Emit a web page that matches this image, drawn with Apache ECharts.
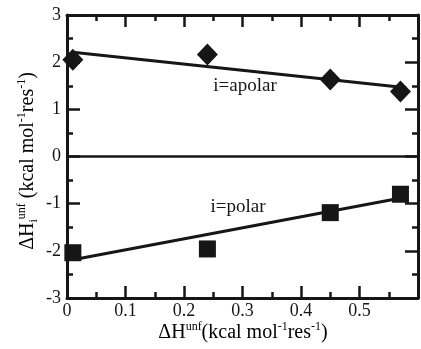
<!DOCTYPE html>
<html><head><meta charset="utf-8">
<script src="https://cdn.jsdelivr.net/npm/echarts@6/dist/echarts.min.js"></script>
<style>html,body{margin:0;padding:0;background:#fff;}#c{width:421px;height:349px;}</style>
</head><body><div id="c"></div>
<script>
var apolarX = [0.01, 0.24, 0.45, 0.57];
var apolarY = [2.05, 2.16, 1.63, 1.38];
var polarX = [0.01, 0.24, 0.45, 0.57];
var polarY = [-2.04, -1.96, -1.19, -0.80];
var apolarFitX = [0.01, 0.58];
var apolarFitY = [2.21, 1.46];
var polarFitX = [0.01, 0.58];
var polarFitY = [-2.19, -0.86];
var xTickLabels = ['0', '0.1', '0.2', '0.3', '0.4', '0.5'];
var yTickLabels = ['-3', '-2', '-1', '0', '1', '2', '3'];

function pairs(xs, ys){ return xs.map(function(x,i){ return [x, ys[i]]; }); }
var C = '#161616';
var F = '"Liberation Serif", "DejaVu Serif", serif';
var chart = echarts.init(document.getElementById('c'), null, {renderer:'canvas'});
function xAx(pos, labels){
  return {type:'value', position:pos, min:0, max:0.6, interval:0.1,
    axisLine:{show:true, onZero:false, lineStyle:{color:C, width:3}},
    axisTick:{show:true, inside:true, length:12, lineStyle:{color:C, width:2.5}},
    minorTick:{show:true, splitNumber:2, length:6, lineStyle:{color:C, width:2.5}},
    splitLine:{show:false},
    axisLabel:{show:labels, margin:4, color:C, fontFamily:F, fontSize:18,
      formatter:function(v){ var s = xTickLabels.filter(function(t){return Math.abs(parseFloat(t)-v)<1e-6;}); return s.length? s[0] : ''; }}
  };
}
function yAx(pos, labels){
  return {type:'value', position:pos, min:-3, max:3, interval:1,
    axisLine:{show:true, onZero:false, lineStyle:{color:C, width:3}},
    axisTick:{show:true, inside:true, length:13, lineStyle:{color:C, width:2.5}},
    minorTick:{show:true, splitNumber:2, length:6, lineStyle:{color:C, width:2.5}},
    splitLine:{show:false},
    axisLabel:{show:labels, margin:6, color:C, fontFamily:F, fontSize:18,
      formatter:function(v){ var s = yTickLabels.filter(function(t){return Math.abs(parseFloat(t)-v)<1e-6;}); return s.length? s[0] : ''; }}
  };
}
var supS = {fontSize:12, fontFamily:F, color:C, verticalAlign:'top', lineHeight:12};
var subS = {fontSize:12, fontFamily:F, color:C, verticalAlign:'bottom', lineHeight:12};
var nS = {fontSize:20, fontFamily:F, color:C, lineHeight:24};
chart.setOption({
  animation:false,
  backgroundColor:'#fff',
  grid:{left:67, right:3, top:15, bottom:51, containLabel:false},
  xAxis:[xAx('bottom', true), xAx('top', false)],
  yAxis:[yAx('left', true), yAx('right', false)],
  series:[
    {type:'line', data:pairs(apolarFitX, apolarFitY), symbol:'none', lineStyle:{color:C, width:3}, z:2,
      markLine:{silent:true, symbol:['none','none'], label:{show:false}, lineStyle:{color:C, width:2.5, type:'solid'}, data:[{yAxis:0}]}},
    {type:'line', data:pairs(polarFitX, polarFitY), symbol:'none', lineStyle:{color:C, width:3}, z:2},
    {type:'scatter', data:pairs(apolarX, apolarY), symbol:'diamond', symbolSize:[21,22], itemStyle:{color:C, opacity:1}, z:3},
    {type:'scatter', data:pairs(polarX, polarY), symbol:'rect', symbolSize:17, itemStyle:{color:C, opacity:1}, z:3}
  ],
  graphic:[
    {type:'text', style:{text:'i=apolar', fontFamily:F, fontSize:19, fill:C, x:245, y:86, align:'center', verticalAlign:'middle'}},
    {type:'text', style:{text:'i=polar', fontFamily:F, fontSize:19, fill:C, x:238, y:207, align:'center', verticalAlign:'middle'}},
    {type:'text', x:243, y:333, style:{
      text:'{n|ΔH}{sup|unf}{n|(kcal mol}{sup|-1}{n|res}{sup|-1}{n|)}',
      rich:{n:nS, sup:supS}, align:'center', verticalAlign:'middle'}},
    {type:'text', x:28, y:161, rotation:Math.PI/2, style:{
      text:'{n|ΔH}{sub|i}{sup|unf}{n| (kcal mol}{sup|-1}{n|res}{sup|-1}{n|)}',
      rich:{n:nS, sup:supS, sub:subS}, align:'center', verticalAlign:'middle'}}
  ]
});
</script></body></html>
